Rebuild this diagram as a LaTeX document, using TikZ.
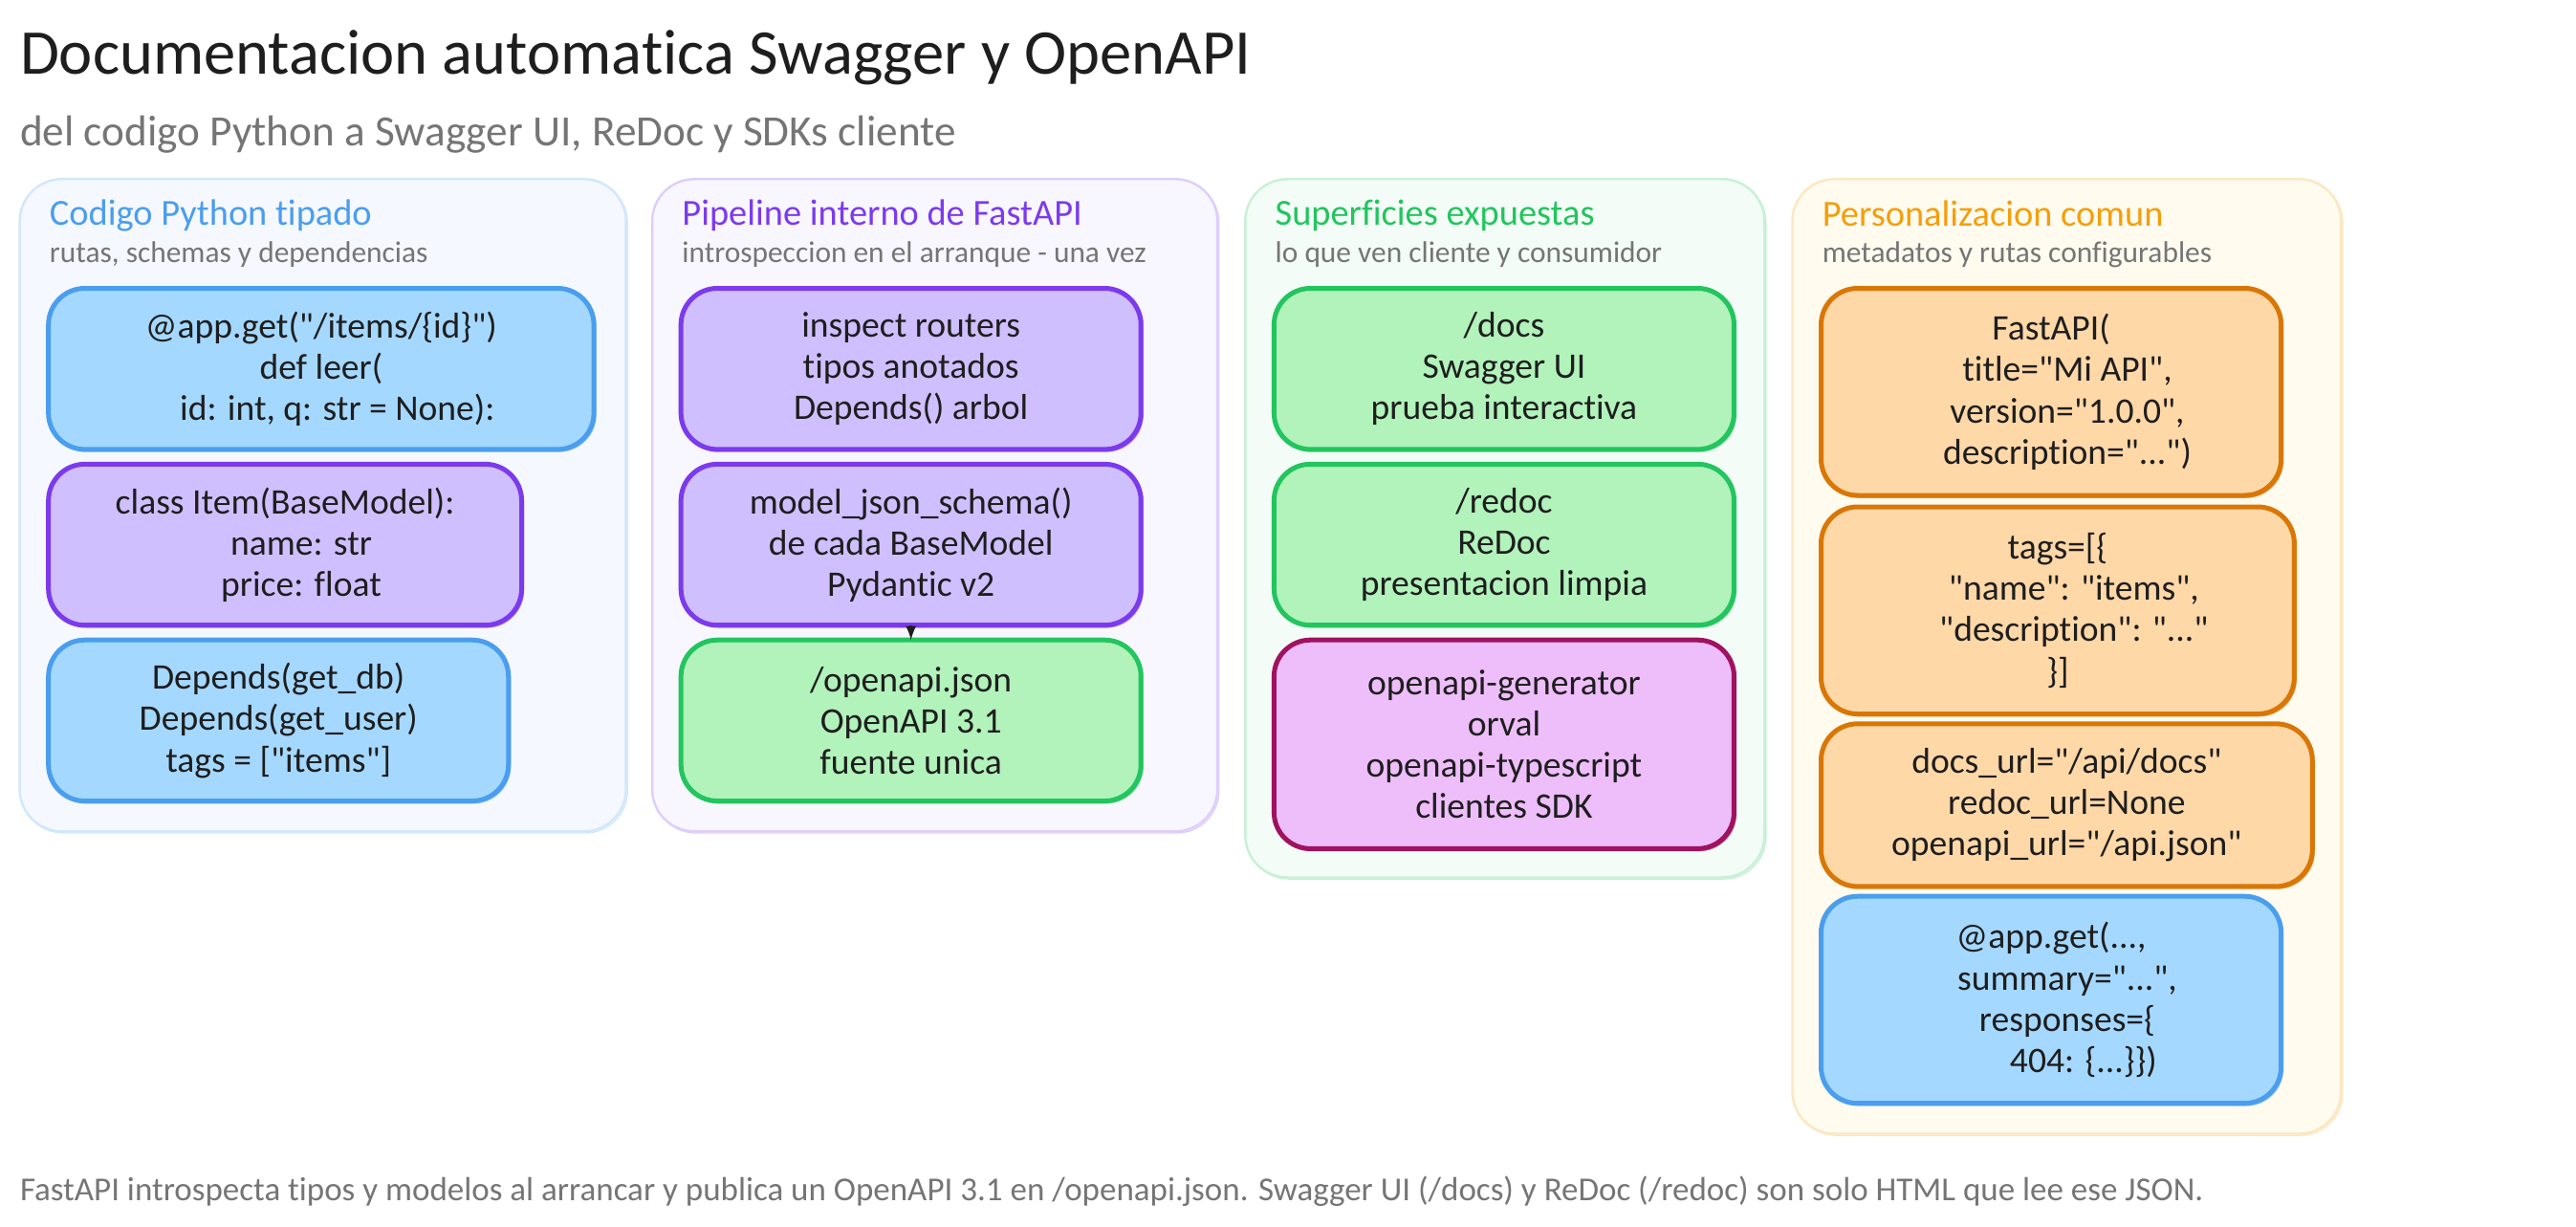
\documentclass[tikz,border=0pt]{standalone}
\usepackage{fontspec}
\setmainfont{Carlito}[Ligatures={TeXOff,CommonOff}]
\usetikzlibrary{arrows}
\definecolor{inkc}{HTML}{1E1E1E}
\definecolor{grayc}{HTML}{757575}
\definecolor{bluec}{HTML}{4A9EED}
\definecolor{purplec}{HTML}{7C3AED}
\definecolor{greenc}{HTML}{22C55E}
\definecolor{amberc}{HTML}{F59E0B}
\definecolor{orangec}{HTML}{D97706}
\definecolor{pinkc}{HTML}{A0125F}
\definecolor{bluefill}{HTML}{A5D8FF}
\definecolor{purplefill}{HTML}{D0BFFF}
\definecolor{greenfill}{HTML}{B2F2BB}
\definecolor{pinkfill}{HTML}{EEBEFA}
\definecolor{orangefill}{HTML}{FFD8A8}
\definecolor{bluepale}{HTML}{F5F8FF}
\definecolor{purplepale}{HTML}{F8F6FF}
\definecolor{greenpale}{HTML}{F3FCF6}
\definecolor{amberpale}{HTML}{FFFBEF}
\begin{document}
\begin{tikzpicture}[x=0.859pt,y=-0.859pt,
  sized/.style 2 args={minimum width=#1*0.859pt,minimum height=#2*0.859pt,inner sep=0pt,outer sep=0pt,anchor=north west},
  panel/.style 2 args={draw=#1!25!white,fill=#2,line width=1.2pt,rounded corners=22pt,
    preaction={draw=#1!25!white,line width=0.7pt,transform canvas={shift={(0.8pt,-0.8pt)}}}},
  card/.style 2 args={draw=#1,fill=#2,line width=2.5pt,rounded corners=19pt,align=center,text=inkc,
    font=\fontsize{18.8}{21.6}\selectfont,
    preaction={draw=#1!55!white,line width=1pt,transform canvas={shift={(0.8pt,-0.9pt)}}}},
  bluebox/.style={card={bluec}{bluefill}},
  purplebox/.style={card={purplec}{purplefill}},
  greenbox/.style={card={greenc}{greenfill}},
  pinkbox/.style={card={pinkc}{pinkfill}},
  orangebox/.style={card={orangec}{orangefill}},
  paneltitle/.style={anchor=west,inner sep=0pt,font=\fontsize{19.2}{22}\selectfont},
  panelsub/.style={anchor=west,inner sep=0pt,text=grayc,font=\fontsize{15.7}{18}\selectfont}]
\useasboundingbox (0,0) rectangle (1568,746.7);

\node (title) at (12,35) [anchor=west,inner sep=0pt,text=inkc,font=\fontsize{33.3}{38}\selectfont] {Documentacion automatica Swagger y OpenAPI};
\node (subtitle) at (12,82) [anchor=west,inner sep=0pt,text=grayc,font=\fontsize{22.6}{26}\selectfont] {del codigo Python a Swagger UI, ReDoc y SDKs cliente};

\node (panelA) at (12,109) [sized={369}{397},panel={bluec}{bluepale}] {};
\node (panelB) at (397,109) [sized={344}{397},panel={purplec}{purplepale}] {};
\node (panelC) at (758,109) [sized={316}{425},panel={greenc}{greenpale}] {};
\node (panelD) at (1091,109) [sized={334}{581},panel={amberc}{amberpale}] {};

\node (titleA) at (30,131) [paneltitle,text=bluec] {Codigo Python tipado};
\node (subA) at (30,155) [panelsub] {rutas, schemas y dependencias};
\node (titleB) at (415,131) [paneltitle,text=purplec] {Pipeline interno de FastAPI};
\node (subB) at (415,155) [panelsub] {introspeccion en el arranque - una vez};
\node (titleC) at (776,131) [paneltitle,text=greenc] {Superficies expuestas};
\node (subC) at (776,155) [panelsub] {lo que ven cliente y consumidor};
\node (titleD) at (1109,130) [paneltitle,text=amberc] {Personalizacion comun};
\node (subD) at (1109,155) [panelsub] {metadatos y rutas configurables};

\node (route) at (29.5,175.5) [sized={332}{98},bluebox] {@app.get("/items/\{id\}")\\def leer(\\\hspace*{0.9em}id: int, q: str = None):};
\node (model) at (29.5,282.5) [sized={288}{98},purplebox] {class Item(BaseModel):\\\hspace*{0.9em}name: str\\\hspace*{0.9em}price: float};
\node (deps) at (29.5,389.5) [sized={280}{98},bluebox] {Depends(get\_db)\\Depends(get\_user)\\tags = ["items"]};

\node (inspect) at (414.5,175.5) [sized={280}{98},purplebox] {inspect routers\\tipos anotados\\Depends() arbol};
\node (schema) at (414.5,282.5) [sized={280}{98},purplebox] {model\_json\_schema()\\de cada BaseModel\\Pydantic v2};
\node (openapi) at (414.5,389.5) [sized={280}{98},greenbox] {/openapi.json\\OpenAPI 3.1\\fuente unica};

\node (docs) at (775.5,175.5) [sized={280}{98},greenbox] {/docs\\Swagger UI\\prueba interactiva};
\node (redoc) at (775.5,282.5) [sized={280}{98},greenbox] {/redoc\\ReDoc\\presentacion limpia};
\node (sdks) at (775.5,389.5) [sized={280}{127},pinkbox] {openapi-generator\\orval\\openapi-typescript\\clientes SDK};

\node (meta) at (1108.5,175.5) [sized={280}{126},orangebox] {FastAPI(\\\hspace*{0.9em}title="Mi API",\\\hspace*{0.9em}version="1.0.0",\\\hspace*{0.9em}description="...")};
\node (tags) at (1108.5,308.5) [sized={288}{126},orangebox] {tags=[\{\\\hspace*{0.9em}"name": "items",\\\hspace*{0.9em}"description": "..."\\\}]};
\node (urls) at (1108.5,440.5) [sized={299}{99},orangebox] {docs\_url="/api/docs"\\redoc\_url=None\\openapi\_url="/api.json"};
\node (extra) at (1108.5,545.5) [sized={280}{126},bluebox] {@app.get(...,\\\hspace*{0.9em}summary="...",\\\hspace*{0.9em}responses=\{\\\hspace*{1.8em}404: \{...\}\})};

\draw[-latex,draw=inkc,line width=1.5pt] (schema) -- (openapi);

\node (footer) at (12,725) [anchor=west,inner sep=0pt,text=grayc,font=\fontsize{17.5}{20}\selectfont] {FastAPI introspecta tipos y modelos al arrancar y publica un OpenAPI 3.1 en /openapi.json. Swagger UI (/docs) y ReDoc (/redoc) son solo HTML que lee ese JSON.};
\end{tikzpicture}
\end{document}
